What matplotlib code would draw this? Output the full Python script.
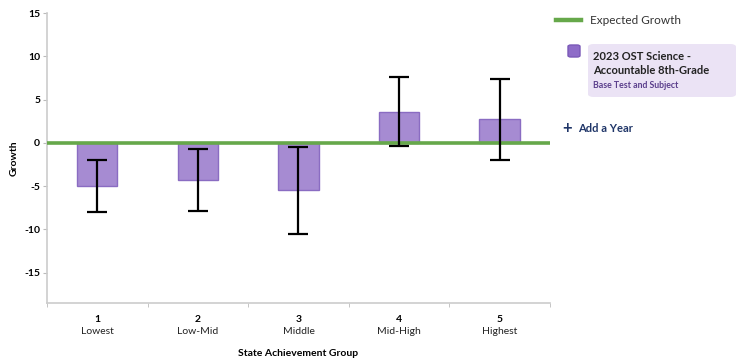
import matplotlib
matplotlib.use("Agg")
import matplotlib.pyplot as plt
from matplotlib.patches import FancyBboxPatch
from matplotlib.lines import Line2D

plt.rcParams["font.family"] = ["Lato", "DejaVu Sans"]

# data
groups = ["1", "2", "3", "4", "5"]
group_names = ["Lowest", "Low-Mid", "Middle", "Mid-High", "Highest"]
growth = [-5.0, -4.3, -5.5, 3.6, 2.7]
err = [3.0, 3.6, 5.0, 4.0, 4.7]
expected = 0

bar_color = "#a68bd2"
bar_edge = "#8a6cc2"
green = "#66a84a"

fig = plt.figure(figsize=(7.36, 3.62), dpi=100)
ax = fig.add_axes([0.064, 0.163, 0.683, 0.801])

x = list(range(len(groups)))
ax.bar(x, growth, width=0.4, color=bar_color, edgecolor=bar_edge, linewidth=1, zorder=2)
ax.errorbar(x, growth, yerr=err, fmt="none", ecolor="black", elinewidth=1.6,
            capsize=7.5, capthick=1.6, zorder=4)
ax.axhline(expected, color=green, linewidth=2.6, zorder=3)

ax.set_xlim(-0.5, len(groups) - 0.5)
ax.set_ylim(-18.5, 15)
ax.set_yticks([15, 10, 5, 0, -5, -10, -15])
ax.set_yticklabels(["15", "10", "5", "0", "-5", "-10", "-15"], fontweight="bold")
ax.set_xticks(x)
ax.set_xticklabels(groups, fontsize=7.5, fontweight="bold")
# second line of each category label, normal weight
for xi, name in zip(x, group_names):
    ax.annotate(name, (xi, 0), xycoords=ax.get_xaxis_transform(), xytext=(0, -17),
                textcoords="offset points", ha="center", va="top", fontsize=7.5, color="#222222")
ax.set_xticks([i - 0.5 for i in range(len(groups) + 1)], minor=True)
ax.tick_params(axis="x", which="major", length=0, pad=8.5)
ax.tick_params(axis="x", which="minor", length=3, color="#bbbbbb")
ax.tick_params(axis="y", length=3, color="#bbbbbb", labelsize=7.5, pad=2)

for s in ["top", "right"]:
    ax.spines[s].set_visible(False)
for s in ["left", "bottom"]:
    ax.spines[s].set_color("#cccccc")
    ax.spines[s].set_linewidth(1.2)

ax.set_ylabel("Growth", fontsize=7.5, fontweight="bold", labelpad=4)
ax.set_xlabel("State Achievement Group", fontsize=7.5, fontweight="bold", labelpad=18)

# legend panel on the right
fig.add_artist(Line2D([556 / 736, 581 / 736], [1 - 20 / 362] * 2, color=green, linewidth=3.2,
                      transform=fig.transFigure))
fig.text(590 / 736, 1 - 20 / 362, "Expected Growth", fontsize=8.5, va="center", color="#333333")

fig.add_artist(FancyBboxPatch((588 / 736, 1 - 97 / 362), 148 / 736, 53 / 362,
                              boxstyle="round,pad=0,rounding_size=0.008",
                              facecolor="#ebe3f5", edgecolor="none", transform=fig.transFigure))
fig.add_artist(FancyBboxPatch((568 / 736, 1 - 57 / 362), 12 / 736, 12 / 362,
                              boxstyle="round,pad=0,rounding_size=0.004",
                              facecolor="#8e6cc8", edgecolor="#7a59b8", transform=fig.transFigure))
fig.text(593 / 736, 1 - 57 / 362, "2023 OST Science -", fontsize=8, fontweight="bold",
         va="center", color="#222222")
fig.text(593 / 736, 1 - 71 / 362, "Accountable 8th-Grade", fontsize=8, fontweight="bold",
         va="center", color="#222222")
fig.text(593 / 736, 1 - 86 / 362, "Base Test and Subject", fontsize=6.3, fontweight="bold",
         va="center", color="#5b3f8c")
fig.text(562 / 736, 1 - 128 / 362, "+", fontsize=12, fontweight="bold", va="center", color="#1f3568")
fig.text(578 / 736, 1 - 129 / 362, "Add a Year", fontsize=8, fontweight="bold", va="center",
         color="#1f3568")

fig.savefig("out.png", dpi=100)
